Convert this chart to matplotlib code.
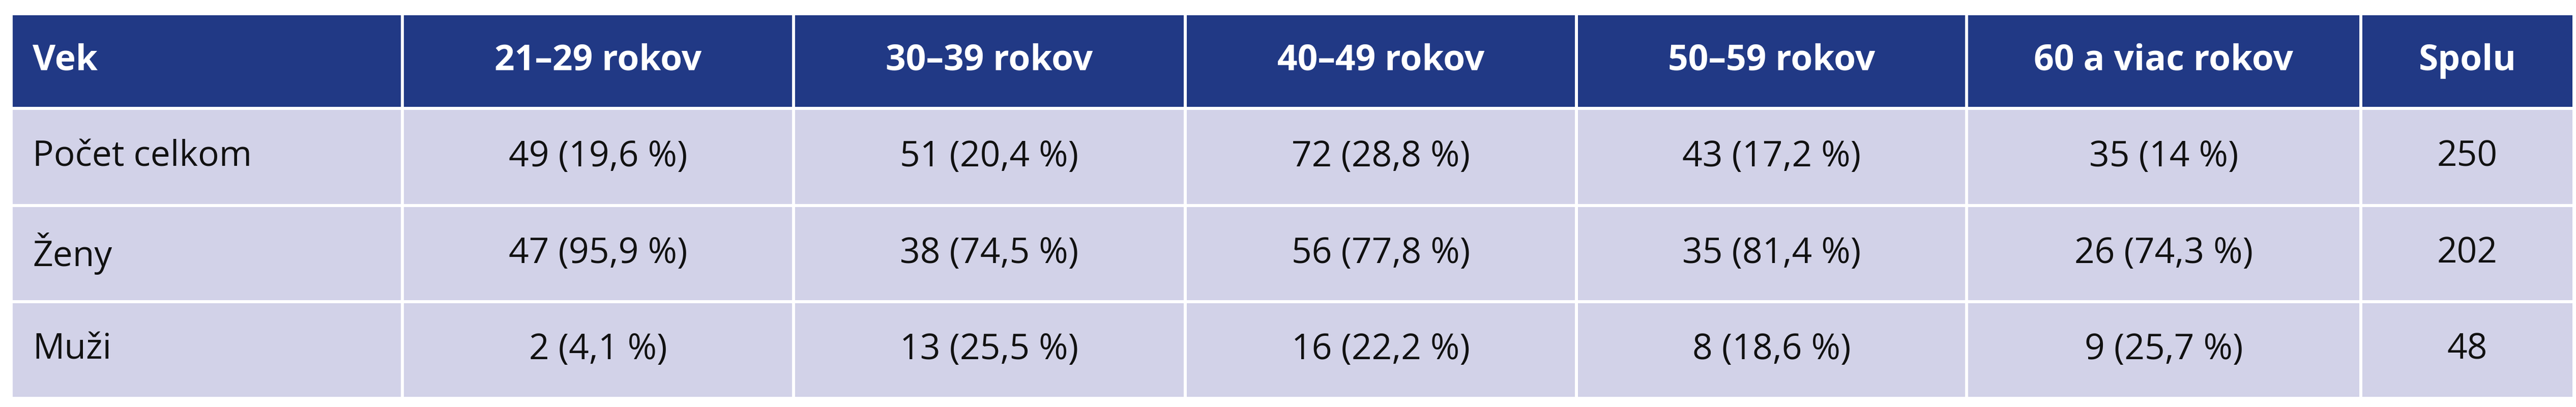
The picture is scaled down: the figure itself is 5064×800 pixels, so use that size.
import matplotlib
matplotlib.use("Agg")
import matplotlib.pyplot as plt
from matplotlib.patches import Rectangle
from matplotlib import font_manager

headers = ["Vek", "21–29 rokov", "30–39 rokov", "40–49 rokov", "50–59 rokov", "60 a viac rokov", "Spolu"]
row_labels = ["Počet celkom", "Ženy", "Muži"]
cells = [
    ["49 (19,6 %)", "51 (20,4 %)", "72 (28,8 %)", "43 (17,2 %)", "35 (14 %)", "250"],
    ["47 (95,9 %)", "38 (74,5 %)", "56 (77,8 %)", "35 (81,4 %)", "26 (74,3 %)", "202"],
    ["2 (4,1 %)", "13 (25,5 %)", "16 (22,2 %)", "8 (18,6 %)", "9 (25,7 %)", "48"],
]

names = {f.name for f in font_manager.fontManager.ttflist}
fam = ["Liberation Sans Narrow"] if "Liberation Sans Narrow" in names else ["Open Sans"]
fam += ["DejaVu Sans"]

W, H = 5064, 800
fig = plt.figure(figsize=(W/100, H/100), dpi=100)
ax = fig.add_axes([0, 0, 1, 1])
ax.set_xlim(0, W); ax.set_ylim(H, 0); ax.axis("off")

xs = [22, 791, 1560, 2330, 3099, 3866, 4641, 5060]
ys = [27, 213, 404, 593, 783]
gap = 3
navy = "#213985"; lav = "#d2d2e8"

for r in range(4):
    for c in range(7):
        x0, x1 = xs[c] + gap, xs[c+1] - gap
        y0, y1 = ys[r] + gap, ys[r+1] - gap
        ax.add_patch(Rectangle((x0, y0), x1-x0, y1-y0, color=navy if r == 0 else lav, lw=0))
        if r == 0:
            txt, col, w = headers[c], "white", "bold"
        else:
            txt = row_labels[r-1] if c == 0 else cells[r-1][c-1]
            col, w = "#111111", "normal"
        yc = (ys[r] + ys[r+1]) / 2
        if c == 0:
            ax.text(xs[0] + 42, yc, txt, ha="left", va="center", fontsize=50, color=col, weight=w, family=fam)
        else:
            ax.text((xs[c]+xs[c+1])/2, yc, txt, ha="center", va="center", fontsize=50, color=col, weight=w, family=fam)

fig.savefig("out.png", dpi=100)
